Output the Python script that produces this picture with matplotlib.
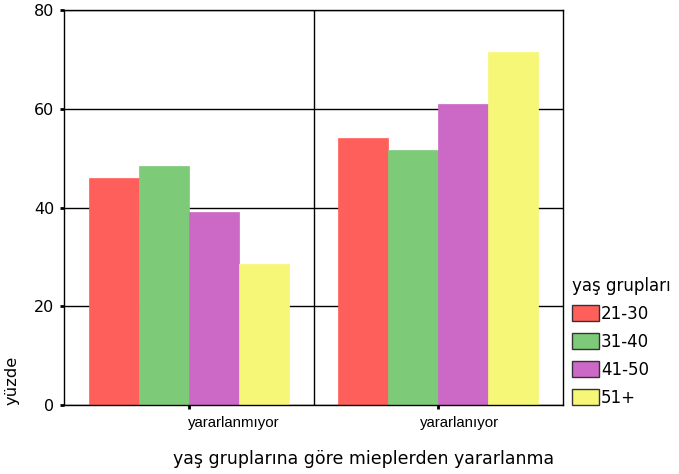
import matplotlib.pyplot as plt
import matplotlib.transforms as mtransforms
import numpy as np

# categories and series (percent)
kategoriler = ["yararlanmıyor", "yararlanıyor"]
gruplar = ["21-30", "31-40", "41-50", "51+"]
yuzde_21_30 = [46.0, 54.0]
yuzde_31_40 = [48.4, 51.6]
yuzde_41_50 = [39.1, 60.9]
yuzde_51 = [28.6, 71.4]
y_ticks = [0, 20, 40, 60, 80]

renkler = ["#ff5f5b", "#7dcb78", "#cc68c6", "#f7f777"]

fig = plt.figure(figsize=(6.79, 4.74), dpi=100)
ax = fig.add_axes([64 / 679, 1 - 405 / 474, 499 / 679, 395 / 474])

x = np.arange(len(kategoriler))
w = 0.2
seriler = [yuzde_21_30, yuzde_31_40, yuzde_41_50, yuzde_51]
for i, (ad, vals) in enumerate(zip(gruplar, seriler)):
    ax.bar(x + (i - 1.5) * w, vals, width=w, color=renkler[i],
           edgecolor=renkler[i], linewidth=0.5, label=ad, zorder=2)

ax.set_xlim(-0.5, 1.5)
ax.set_ylim(0, 80)
ax.set_yticks(y_ticks)
ax.set_yticklabels([str(t) for t in y_ticks], fontsize=11.5, family="DejaVu Sans")
ax.set_xticks(x)
ax.set_xticklabels(kategoriler, fontsize=10.8, family="Liberation Sans")
ax.tick_params(axis="y", length=3, width=2, pad=4)
ax.tick_params(axis="x", length=3, width=2, pad=5)
# labels in the original sit a bit right of their ticks
for lbl, dx in zip(ax.get_xticklabels(), [45, 21]):
    lbl.set_transform(lbl.get_transform() +
                      mtransforms.ScaledTranslation(dx / 100, 0, fig.dpi_scale_trans))
ax.yaxis.grid(True, color="black", linewidth=1, zorder=1)
ax.set_axisbelow(True)
ax.axvline(0.5, color="black", linewidth=1, zorder=1)
for s in ax.spines.values():
    s.set_linewidth(1)

ax.set_xlabel("yaş gruplarına göre mieplerden yararlanma", fontsize=12.5,
              family="DejaVu Sans")
ax.xaxis.set_label_coords(300 / 499, -45 / 395)
ax.set_ylabel("yüzde", fontsize=11.8, family="DejaVu Sans", loc="bottom", labelpad=10)

handles = [plt.Rectangle((0, 0), 1, 1, facecolor=renkler[i], edgecolor="#333333",
                         linewidth=1) for i in range(4)]
leg = fig.legend(handles, gruplar, title="yaş grupları", loc="lower left",
                 bbox_to_anchor=(572 / 679, 1 - 407 / 474), frameon=False,
                 fontsize=12, title_fontsize=12, handlelength=1.6,
                 handleheight=1.1, handletextpad=0.15, labelspacing=0.6,
                 borderpad=0.0, borderaxespad=0.0, alignment="left")

fig.savefig("out.png", dpi=100)
